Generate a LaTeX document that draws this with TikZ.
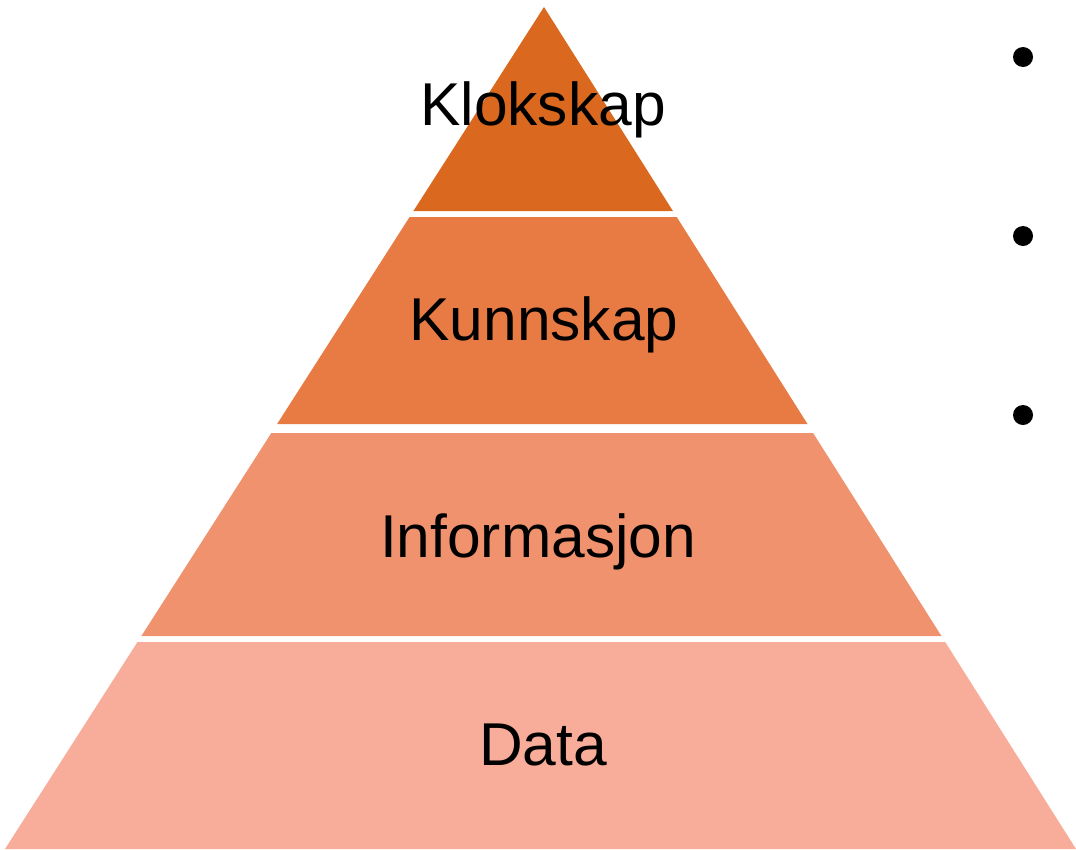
\documentclass[tikz,border=0pt]{standalone}
\usepackage{fontspec}
\setmainfont{Liberation Sans}
\definecolor{tierA}{RGB}{218,104,30}
\definecolor{tierB}{RGB}{232,122,68}
\definecolor{tierC}{RGB}{240,146,110}
\definecolor{tierD}{RGB}{247,173,153}
\begin{document}
\begin{tikzpicture}[x=0.025cm,y=-0.025cm,
    tier/.style={draw=none},
    tierlabel/.style={anchor=base,inner sep=0,font=\fontsize{43}{50}\selectfont},
    bullet/.style={circle,fill=black,inner sep=0,minimum size=0.5cm}]
    \useasboundingbox (0,0) rectangle (1076,849);

    \fill[tier,tierA] (544,7) -- (672.9,211) -- (413.4,211) -- cycle;
    \fill[tier,tierB] (409.6,217) -- (676.7,217) -- (807.5,424) -- (277.1,424) -- cycle;
    \fill[tier,tierC] (271.3,433) -- (813.1,433) -- (941.4,636) -- (141.4,636) -- cycle;
    \fill[tier,tierD] (137.5,642) -- (945.2,642) -- (1076,849) -- (5,849) -- cycle;

    \node at (543,125) [tierlabel] (klokskap) {Klokskap};
    \node at (544,340) [tierlabel] (kunnskap) {Kunnskap};
    \node at (538,557) [tierlabel] (informasjon) {Informasjon};
    \node at (543,765) [tierlabel] (data) {Data};

    \node at (1023,57) [bullet] (b1) {};
    \node at (1023,236) [bullet] (b2) {};
    \node at (1023,415) [bullet] (b3) {};
\end{tikzpicture}
\end{document}
